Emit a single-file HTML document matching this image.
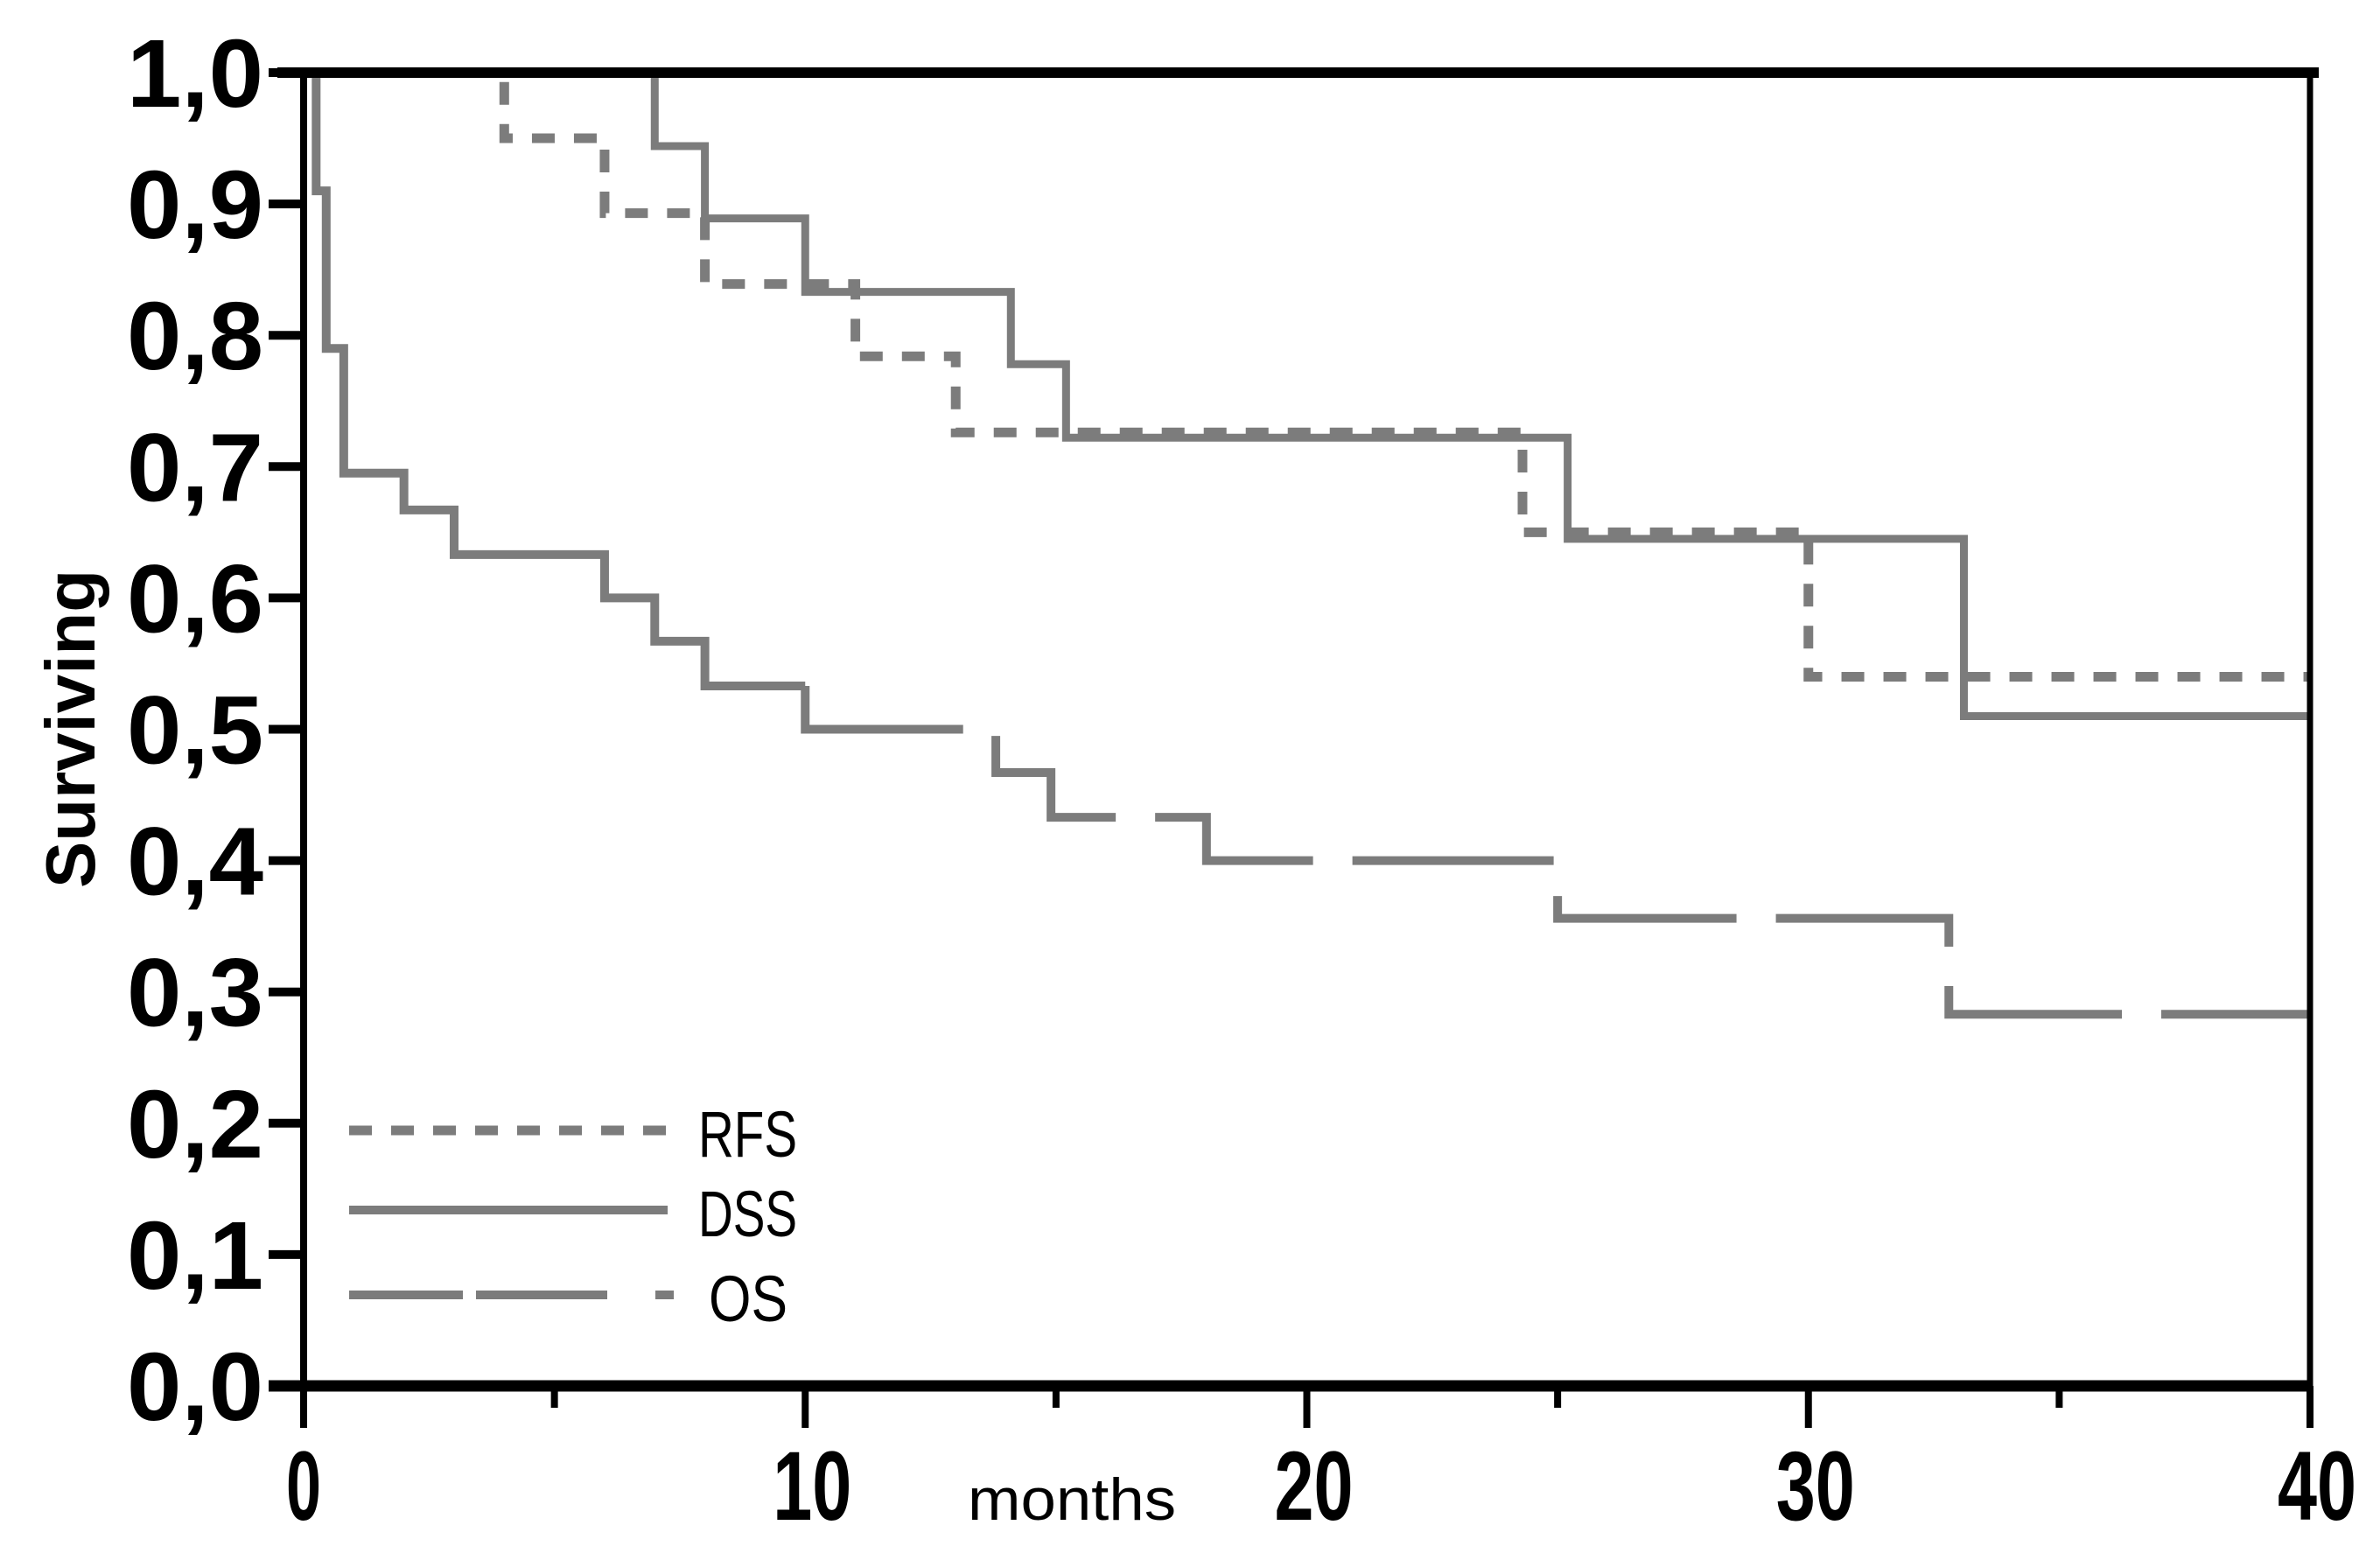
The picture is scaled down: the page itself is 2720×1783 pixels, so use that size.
<!DOCTYPE html>
<html><head><meta charset="utf-8"><style>
html,body{margin:0;padding:0;background:#fff;}
svg{display:block;}
</style></head><body>
<svg id="chart" width="2720" height="1783" viewBox="0 0 2720 1783" xmlns="http://www.w3.org/2000/svg">
<g id="plot"></g>
</svg>
<script>
const yTicks = [0,0.1,0.2,0.3,0.4,0.5,0.6,0.7,0.8,0.9,1.0];
const yTickLabels = ["0,0","0,1","0,2","0,3","0,4","0,5","0,6","0,7","0,8","0,9","1,0"];
const xTicks = [0,10,20,30,40];
const xMinorTicks = [5,15,25,35];
const rfsTimes = [0,4,6,8,11,13,24.3,30,40];
const rfsValues = [1.0,0.95,0.893,0.839,0.784,0.726,0.65,0.54,0.54];
const dssTimes = [0,7,8,10,14.1,15.2,25.2,33.1,40];
const dssValues = [1.0,0.944,0.889,0.833,0.778,0.722,0.645,0.51,0.51];
const osTimes = [0,0.25,0.45,0.8,2,3,6,7,8,10,13.8,14.9,18,25,32.8,40];
const osValues = [1.0,0.91,0.79,0.695,0.667,0.633,0.6,0.567,0.533,0.5,0.467,0.433,0.4,0.356,0.283,0.283];

const X0=347, X1=2640, Y0=1584, Y1=83;
const xs = t => X0 + (X1-X0)*t/40;
const ys = v => Y0 - (Y0-Y1)*v;
const NS="http://www.w3.org/2000/svg";
const plot=document.getElementById('plot');
function mk(tag, attrs, parent){const e=document.createElementNS(NS,tag);for(const k in attrs)e.setAttribute(k,attrs[k]);(parent||plot).appendChild(e);return e;}

function stepPath(times, vals, from, to){
  let d='';
  for(let i=0;i<times.length-1;i++){
    if(times[i+1]<=from || times[i]>=to) continue;
    const a=Math.max(times[i],from), b=Math.min(times[i+1],to);
    if(d==='') d+='M'+(a===times[i]&&i>0? xs(a)+','+ys(vals[i-1])+' L':'')+xs(a)+','+ys(vals[i]);
    d+=' L'+xs(b)+','+ys(vals[i]);
    if(i+1<times.length-1 && times[i+1]<to) d+=' L'+xs(b)+','+ys(vals[i+1]);
  }
  return d;
}
const grey='#7c7c7c';
let p=mk('path',{d:stepPath(rfsTimes,rfsValues,0,40),fill:'none',stroke:grey,'stroke-width':11,'stroke-dasharray':'26 22'});


p=mk('path',{d:stepPath(dssTimes,dssValues,0,40),fill:'none',stroke:grey,'stroke-width':9});


p=mk('path',{d:stepPath(osTimes,osValues,0,10),fill:'none',stroke:grey,'stroke-width':10});


p=mk('path',{d:stepPath(osTimes,osValues,10,40),fill:'none',stroke:grey,'stroke-width':10,'stroke-dasharray':'230 45'});



// frame
let f=mk('line',{x1:X0-30,y1:Y1,x2:X1+10,y2:Y1,stroke:'#000','stroke-width':12});


f=mk('line',{x1:X1,y1:Y1,x2:X1,y2:Y0+40,stroke:'#000','stroke-width':7});


f=mk('line',{x1:X0,y1:Y1,x2:X0,y2:Y0+40,stroke:'#000','stroke-width':8});


f=mk('line',{x1:X0-40,y1:Y0,x2:X1,y2:Y0,stroke:'#000','stroke-width':13});



yTicks.forEach((v,i)=>{
  const t=mk('line',{x1:X0-40,y1:ys(v),x2:X0,y2:ys(v),stroke:'#000','stroke-width':10});
  
  
  const l=mk('text',{x:X0-202,y:ys(v)+39,'font-family':'Liberation Sans, sans-serif','font-weight':'bold','font-size':110,textLength:156,lengthAdjust:'spacingAndGlyphs'});
  l.textContent=yTickLabels[i];
  
  
});
xTicks.forEach(v=>{
  const t=mk('line',{x1:xs(v),y1:Y0,x2:xs(v),y2:Y0+48,stroke:'#000','stroke-width':8});
  
  
  const s=String(v);
  const w=s.length===1?40:90;
  const l=mk('text',{x:xs(v)-w/2+(v===0?0:8),y:1737,'font-family':'Liberation Sans, sans-serif','font-weight':'bold','font-size':112,textLength:w,lengthAdjust:'spacingAndGlyphs'});
  l.textContent=s;
  
  
});
xMinorTicks.forEach(v=>{
  const t=mk('line',{x1:xs(v),y1:Y0,x2:xs(v),y2:Y0+25,stroke:'#000','stroke-width':8});
  
  
});
let tx=mk('text',{x:1106,y:1737,'font-family':'Liberation Sans, sans-serif','font-size':68,textLength:238,lengthAdjust:'spacingAndGlyphs'});
tx.textContent='months';


tx=mk('text',{x:0,y:0,transform:'translate(108,833) rotate(-90)','text-anchor':'middle','font-family':'Liberation Sans, sans-serif','font-weight':'bold','font-size':80,textLength:364,lengthAdjust:'spacingAndGlyphs'});
tx.textContent='Surviving';



// legend
const legNames=['RFS','DSS','OS'];
const legY=[1292,1383,1480];
const legDash=['26 22','','130 15 150 55 30'];
const legW=[113,113,90];
legNames.forEach((n,i)=>{
  const ln=mk('line',{x1:399,y1:legY[i],x2:(i===2?770:763),y2:legY[i],stroke:grey,'stroke-width':(i===0?11:10),'stroke-dasharray':legDash[i]});
  
  
  const lt=mk('text',{x:(i===2?810:798),y:legY[i]+30,'font-family':'Liberation Sans, sans-serif','font-size':74,textLength:legW[i],lengthAdjust:'spacingAndGlyphs'});
  lt.textContent=n;
  
  
});
</script>
</body></html>
